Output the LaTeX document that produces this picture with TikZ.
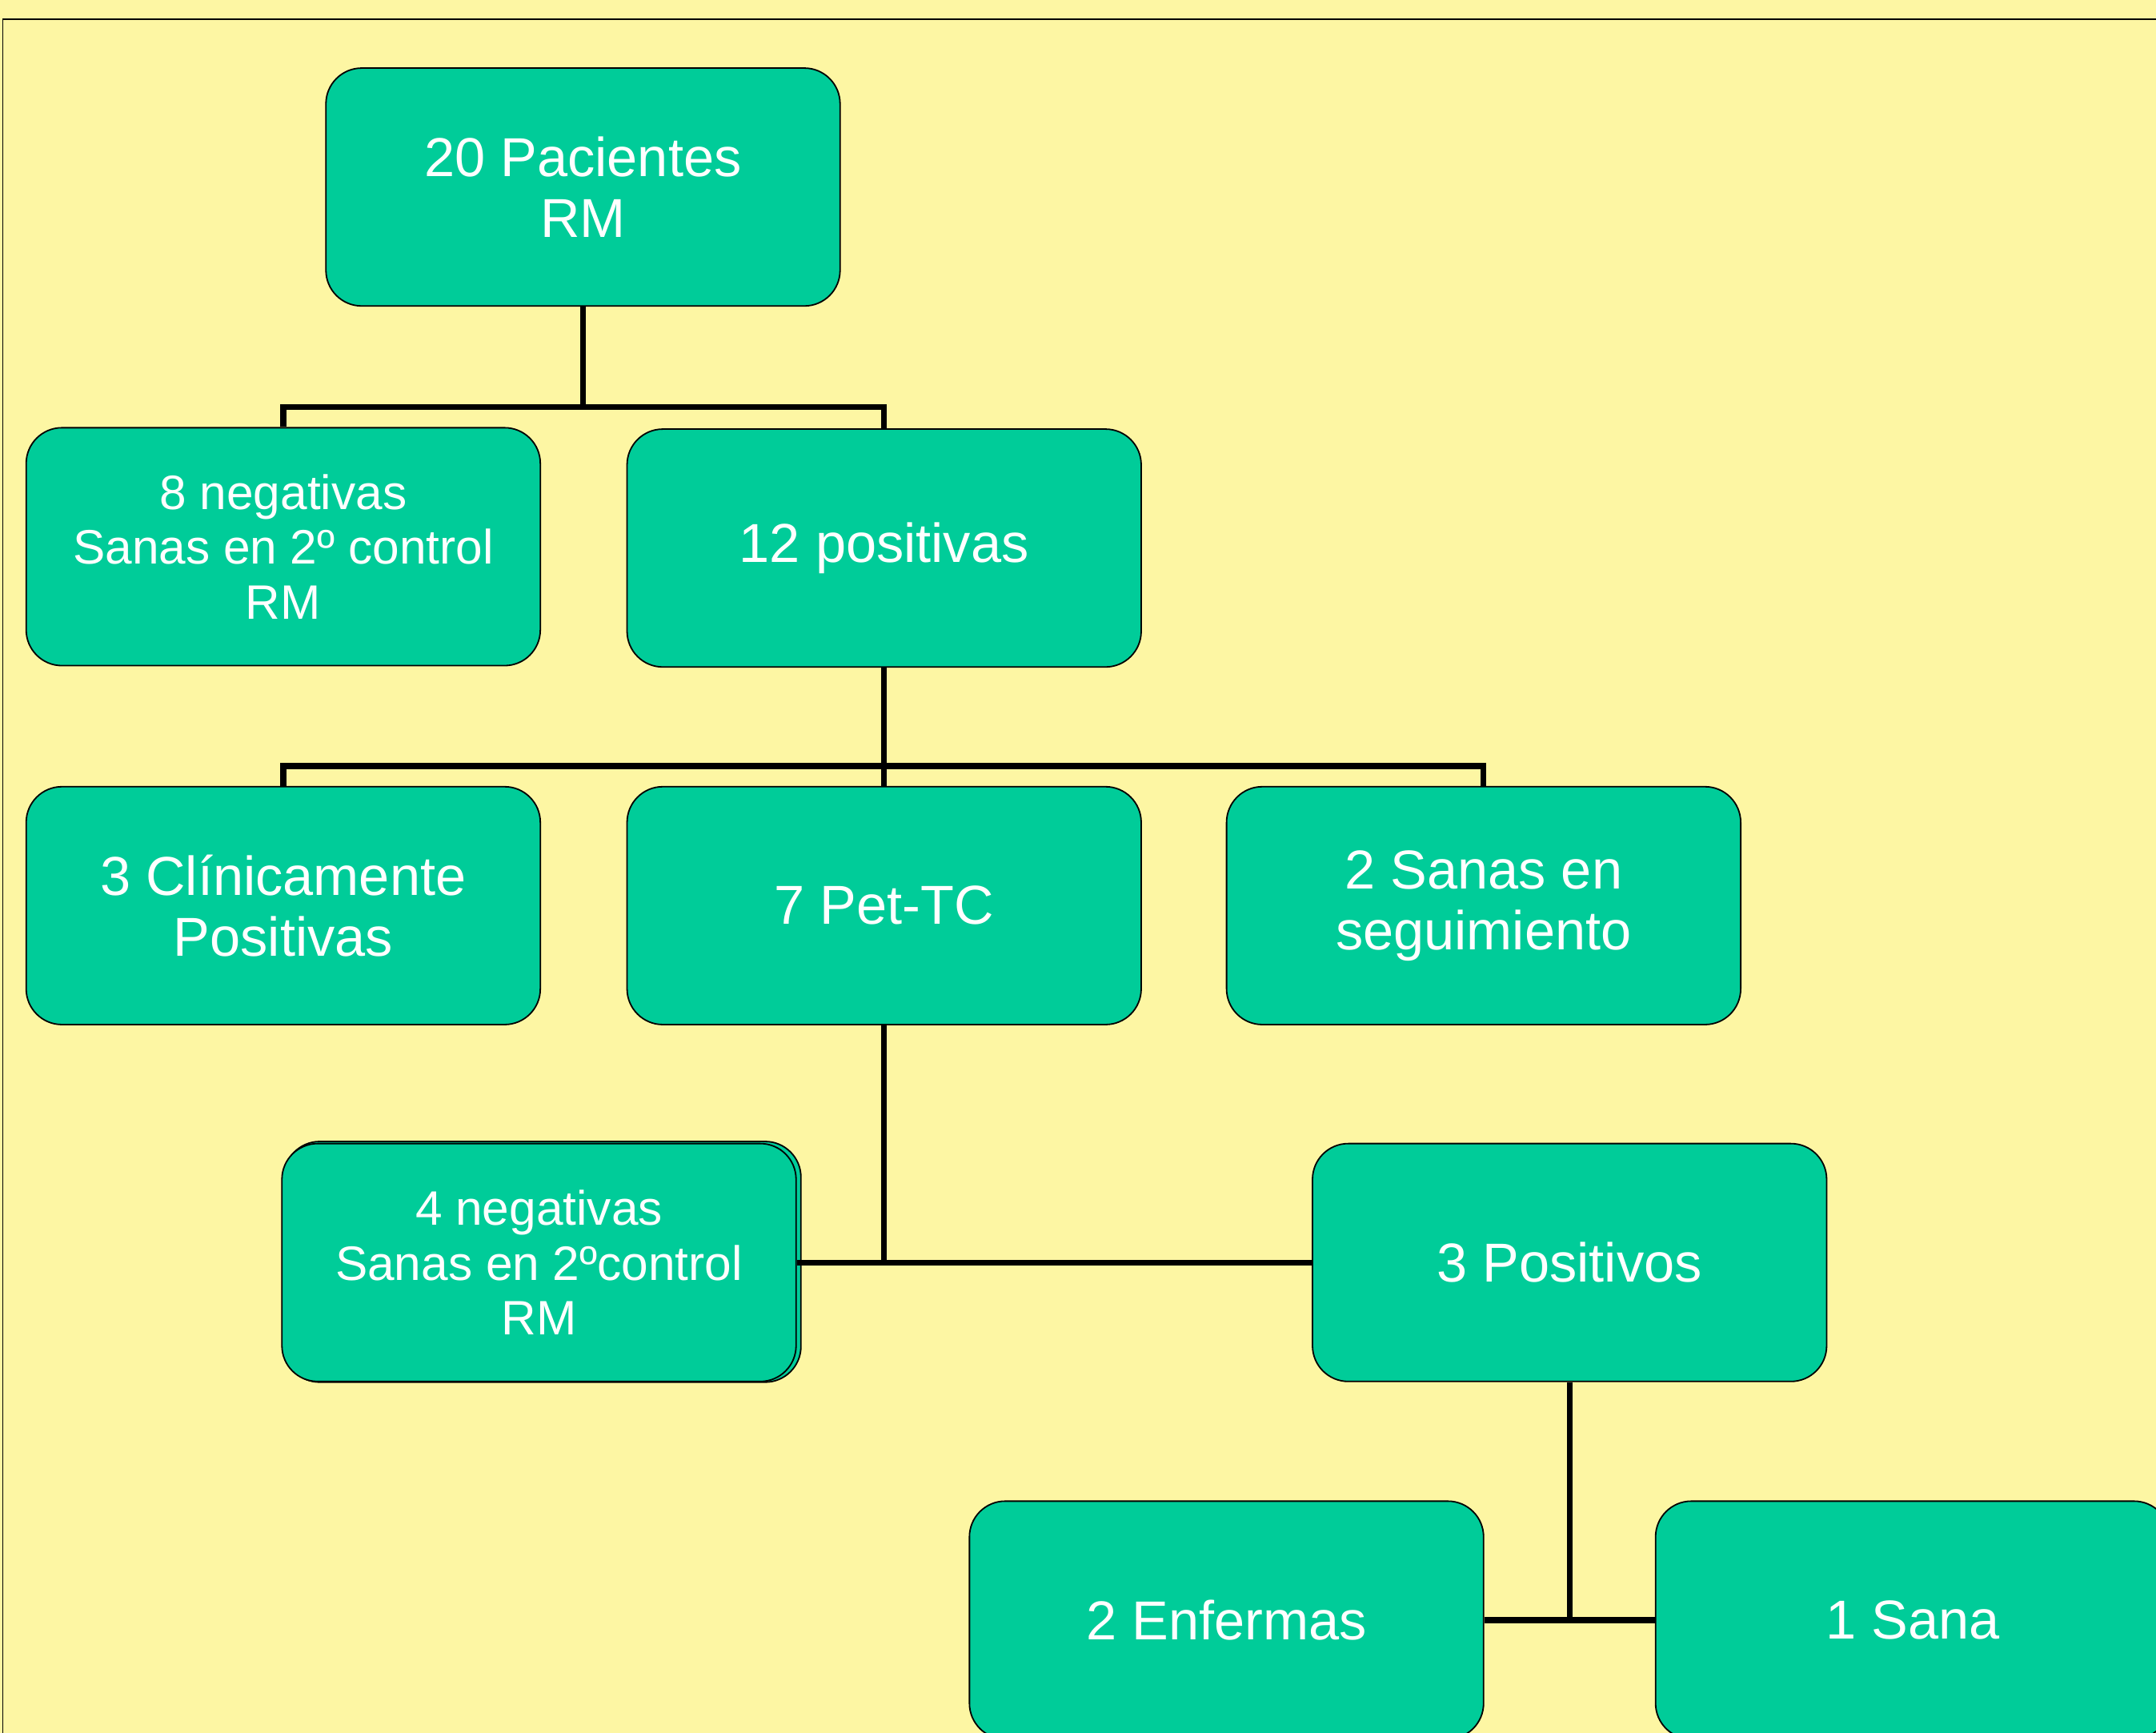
\documentclass[tikz,border=0pt]{standalone}
\usepackage{fontspec}
\setmainfont{Liberation Sans}
\definecolor{verde}{RGB}{0,204,153}
\definecolor{fondo}{RGB}{253,246,163}
\begin{document}
\begin{tikzpicture}[x=0.02cm,y=-0.02cm,
  caja/.style={draw=black,line width=0.6pt,fill=verde,rounded corners=0.52cm,
    minimum width=7.48cm,minimum height=3.46cm,align=center,text=white,inner sep=2pt},
  grande/.style={font=\fontsize{22.7}{25.3}\selectfont},
  chica/.style={font=\fontsize{20}{22.7}\selectfont},
  rama/.style={line width=2.4pt}]
  \useasboundingbox (0,0) rectangle (1568,1260);
  \clip (0,0) rectangle (1568,1260);
  \fill[fondo] (0,0) rectangle (1568,1260);
  \draw[line width=0.6pt] (2,14) rectangle (1600,1300);
  % nivel 1 y 2
  \node (pac) at (424,136) [caja,grande] {20 Pacientes\\RM};
  \node (neg8) at (206,397.5) [caja,chica] {8 negativas\\Sanas en 2º control\\RM};
  \node (pos12) at (643,398.5) [caja,grande] {12 positivas};
  % nivel 3
  \node (clin3) at (206,658.5) [caja,grande] {3 Clínicamente\\Positivas};
  \node (pet7) at (643,658.5) [caja,grande] {7 Pet-TC};
  \node (san2) at (1079,658.5) [caja,grande] {2 Sanas en\\seguimiento};
  % nivel 4
  \draw[draw=black,line width=0.6pt,fill=verde,rounded corners=0.52cm]
    (206.5,830) rectangle (582.5,1005);
  \node (neg4) at (392,918) [caja,chica] {4 negativas\\Sanas en 2ºcontrol\\RM};
  \node (pos3) at (1141.5,918) [caja,grande] {3 Positivos};
  % nivel 5
  \node (enf2) at (892,1178) [caja,grande] {2 Enfermas};
  \node (sana1) at (1391,1178) [caja,grande] {1 Sana};
  \coordinate (j1) at (424,296);
  \coordinate (j2) at (643,557);
  \draw[rama] (pac) -- (j1) -| (neg8);
  \draw[rama] (j1) -| (pos12);
  \draw[rama] (pos12) -- (j2) -| (clin3);
  \draw[rama] (j2) -| (san2);
  \draw[rama] (j2) -- (pet7);
  \draw[rama] (pet7) |- (neg4);
  \draw[rama] (pet7) |- (pos3);
  \draw[rama] (pos3) |- (enf2);
  \draw[rama] (pos3) |- (sana1);
\end{tikzpicture}
\end{document}
